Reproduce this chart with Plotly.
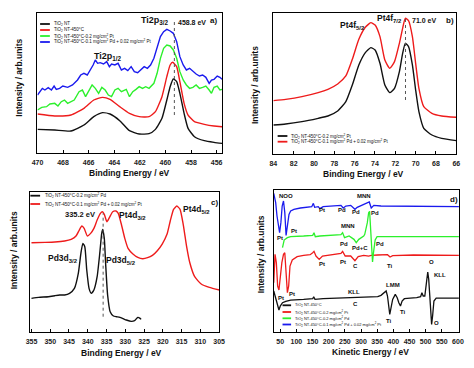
import plotly.graph_objects as go

W, H = 474, 368
FONT = "Liberation Sans, Arial, sans-serif"
BLACK, RED, GREEN, BLUE = "#111111", "#ee1b1b", "#2cf02c", "#1a1aee"

# ---------------- Panel a: Ti2p ----------------
a_bk_eV = [470.0, 468.65, 467.38, 466.37, 465.60, 464.92, 464.33, 463.57, 462.81, 462.05, 461.28, 460.78,
           460.27, 459.89, 459.63, 459.38, 459.12, 458.87, 458.54, 458.23, 457.73, 456.96, 456.20, 455.57]
a_bk_I = [70, 68, 65, 83, 108, 120, 116, 96, 66, 56, 57, 70, 103, 158, 198, 221, 213, 178, 118, 73, 48, 36, 31, 28]
a_rd_eV = [470.0, 468.65, 467.38, 466.37, 465.60, 464.92, 464.33, 463.57, 462.81, 462.05, 461.28, 460.78,
           460.27, 459.89, 459.63, 459.43, 459.12, 458.87, 458.54, 458.23, 457.73, 456.96, 456.20, 455.57]
a_rd_I = [116, 110, 113, 133, 158, 166, 160, 138, 118, 108, 108, 123, 168, 228, 263, 271, 258, 213, 148, 113, 93, 85, 80, 78]
a_gr_eV = [470.00, 469.67, 469.29, 469.03, 468.65, 468.40, 468.14, 467.89, 467.64, 467.38, 467.13, 466.75, 466.49,
           466.24, 465.98, 465.73, 465.48, 465.22, 464.97, 464.71, 464.46, 464.21, 463.95, 463.70, 463.44, 463.06,
           462.81, 462.55, 462.30, 462.05, 461.79, 461.54, 461.28, 460.90, 460.65, 460.39, 460.14, 459.89, 459.63,
           459.38, 459.12, 458.87, 458.61, 458.36, 458.11, 457.85, 457.60, 457.34, 457.09, 456.84, 456.58, 456.40,
           456.20, 455.95, 455.74, 455.57]
a_gr_I = [128, 136, 138, 146, 148, 140, 153, 158, 148, 153, 158, 183, 188, 168, 188, 203, 193, 178, 196, 188, 173,
          168, 188, 193, 183, 190, 168, 183, 190, 198, 193, 198, 193, 208, 238, 283, 313, 323, 320, 308, 283, 243,
          218, 203, 193, 196, 203, 193, 196, 200, 188, 178, 196, 200, 188, 190]
a_bl_eV = [470.00, 469.80, 469.62, 469.42, 469.16, 468.91, 468.70, 468.53, 468.27, 468.02, 467.64, 467.26, 466.87,
           466.62, 466.37, 466.11, 465.86, 465.65, 465.48, 465.30, 465.10, 464.84, 464.59, 464.38, 464.21, 463.95,
           463.70, 463.44, 463.19, 462.94, 462.68, 462.43, 462.17, 461.92, 461.66, 461.41, 461.16, 460.90, 460.65,
           460.39, 460.14, 459.89, 459.63, 459.38, 459.12, 458.87, 458.61, 458.36, 458.11, 457.85, 457.60, 457.34,
           457.09, 456.84, 456.58, 456.40, 456.20, 455.95, 455.74, 455.57]
a_bl_I = [173, 183, 193, 188, 195, 188, 200, 190, 193, 200, 196, 203, 218, 233, 238, 233, 248, 263, 278, 268,
          270, 266, 273, 258, 266, 263, 268, 248, 253, 246, 258, 243, 240, 248, 258, 253, 263, 283, 318, 348,
          363, 370, 365, 358, 333, 288, 263, 248, 253, 243, 236, 230, 233, 226, 208, 218, 220, 230, 226, 220]
a_mark_eV = [459.3, 459.3]
a_mark_I = [113, 395]
a_ticks = [470, 468, 466, 464, 462, 460, 458, 456]
a_legend = ["TiO<sub>2</sub> NT", "TiO<sub>2</sub> NT-450°C",
            "TiO<sub>2</sub> NT-450°C-0.2 mg/cm<sup>2</sup> Pt",
            "TiO<sub>2</sub> NT-450°C-0.1 mg/cm<sup>2</sup> Pd + 0.02 mg/cm<sup>2</sup> Pt"]

# ---------------- Panel b: Pt4f ----------------
b_eV = [84.00, 82.79, 81.19, 79.59, 78.63, 77.67, 76.87, 76.23, 75.59, 74.95, 74.41, 73.99, 73.51, 73.03,
        72.55, 72.08, 71.60, 71.28, 71.02, 70.70, 70.32, 70.00, 69.68, 69.20, 68.40, 67.44, 66.00]
b_bk_I = [87, 90, 97, 107, 114, 129, 157, 207, 267, 304, 319, 312, 272, 207, 184, 197, 247, 302, 332, 322,
          267, 192, 127, 77, 57, 47, 40]
b_rd_I = [160, 164, 172, 184, 194, 210, 234, 284, 344, 380, 394, 387, 352, 282, 257, 277, 332, 377, 407, 400,
          352, 272, 197, 142, 122, 114, 110]
b_mark_eV = [71.0, 71.0]
b_mark_I = [162, 412]
b_ticks = [84, 82, 80, 78, 76, 74, 72, 70, 68, 66]
b_legend = ["TiO<sub>2</sub> NT-450°C-0.2 mg/cm<sup>2</sup> Pt",
            "TiO<sub>2</sub> NT-450°C-0.1 mg/cm<sup>2</sup> Pd + 0.02 mg/cm<sup>2</sup> Pt"]

# ---------------- Panel c: Pd3d / Pt4d ----------------
c_bk_eV = [355.00, 353.09, 350.49, 348.76, 347.46, 346.16, 344.86, 343.56, 342.52, 341.83, 341.31, 340.79,
           340.27, 339.66, 339.06, 338.36, 337.50, 336.80, 336.28, 336.02, 335.59, 335.24, 334.71, 334.03,
           333.16, 332.30, 331.43, 330.56, 329.70, 328.40, 327.53, 326.66, 326.06, 325.80]
c_bk_I = [100, 103, 105, 108, 110, 110, 115, 130, 175, 235, 265, 255, 185, 130, 115, 125, 165, 235, 295, 307,
          280, 205, 110, 60, 47, 45, 43, 39, 35, 31, 33, 43, 40, 37]
c_rd_eV = [355.00, 351.36, 348.76, 346.16, 344.43, 343.13, 342.26, 341.57, 340.96, 340.10, 339.23, 338.36,
           337.50, 336.63, 336.11, 335.59, 334.90, 334.20, 333.34, 332.47, 331.87, 331.00, 330.13, 329.26,
           327.96, 326.66, 325.36, 324.06, 322.76, 321.46, 320.16, 318.86, 318.00, 317.13, 316.26, 315.40,
           314.53, 313.67, 312.80, 311.50, 309.77, 307.60, 304.90]
c_rd_I = [267, 268, 269, 272, 277, 287, 305, 317, 310, 287, 295, 310, 335, 355, 360, 352, 330, 343, 360, 362,
          355, 320, 280, 250, 233, 223, 219, 222, 229, 243, 263, 293, 333, 367, 377, 367, 320, 257, 207, 165,
          143, 133, 125]
c_mark_eV = [335.9, 335.9]
c_mark_I = [45, 355]
c_ticks = [355, 350, 345, 340, 335, 330, 325, 320, 315, 310, 305]
c_legend = ["TiO<sub>2</sub> NT-450°C-0.2 mg/cm<sup>2</sup> Pd",
            "TiO<sub>2</sub> NT-450°C-0.1 mg/cm<sup>2</sup> Pd + 0.02 mg/cm<sup>2</sup> Pt"]

# ---------------- Panel d: Auger ----------------
d_bk_eV = [29.9, 33.9, 37.9, 42.0, 46.0, 50.0, 57.0, 67.1, 82.2, 122.4, 150.5, 153.5, 157.5, 182.7, 222.9,
           273.1, 311.5, 331.6, 351.7, 361.8, 371.8, 377.8, 381.9, 385.9, 388.9, 391.9, 397.9, 406.0, 412.0,
           417.0, 422.1, 427.1, 434.1, 452.2, 472.3, 484.4, 488.4, 492.4, 497.4, 502.5, 506.5, 509.5, 512.5,
           515.5, 518.5, 521.5, 525.6, 532.6, 562.8, 603.0]
d_bk_I = [122, 107, 87, 72, 65, 77, 87, 91, 95, 97, 99, 105, 97, 99, 100, 101, 103, 104, 105, 109, 117, 122,
          107, 67, 52, 67, 97, 112, 102, 87, 77, 92, 99, 101, 102, 105, 117, 107, 107, 147, 179, 157, 107, 57,
          22, 47, 92, 101, 101, 101]
d_rd_eV = [29.9, 33.9, 37.9, 42.0, 46.0, 50.0, 55.0, 60.1, 64.1, 68.1, 72.1, 76.1, 80.2, 87.2, 102.3, 122.4,
           142.5, 150.5, 154.5, 160.6, 170.6, 180.7, 202.8, 222.9, 237.9, 243.0, 251.0, 268.1, 281.2, 291.2,
           308.3, 323.6, 331.6, 351.7, 381.9, 389.9, 397.9, 462.3, 512.5, 562.8, 603.0]
d_rd_I = [147, 232, 207, 137, 125, 167, 207, 232, 237, 177, 117, 137, 197, 215, 225, 229, 231, 237, 241, 227,
          217, 227, 230, 231, 235, 241, 227, 227, 213, 225, 229, 227, 229, 230, 231, 224, 228, 230, 230, 230, 229]
d_gr_eV = [57.0, 62.1, 72.1, 82.2, 122.4, 150.5, 154.5, 158.5, 172.6, 222.9, 237.9, 243.0, 249.0, 263.1, 278.1,
           285.2, 293.2, 308.3, 311.5, 319.5, 323.6, 326.6, 329.6, 332.6, 335.6, 338.6, 343.7, 349.7, 371.8,
           462.3, 562.8, 603.0]
d_gr_I = [252, 275, 282, 285, 287, 289, 297, 285, 287, 289, 291, 297, 282, 287, 277, 267, 277, 287, 292, 327,
          357, 361, 317, 247, 209, 237, 275, 285, 285, 285, 285, 285]
d_bl_eV = [29.9, 31.9, 35.9, 40.0, 44.0, 48.0, 52.0, 56.0, 60.1, 64.1, 68.1, 72.1, 77.1, 82.2, 92.2, 112.3,
           132.4, 147.5, 152.5, 156.5, 167.6, 172.6, 182.7, 202.8, 222.9, 237.9, 245.0, 253.0, 268.1, 281.2,
           288.2, 303.3, 311.5, 319.5, 325.6, 331.6, 339.6, 361.8, 412.0, 462.3, 512.5, 562.8, 603.0]
d_bl_I = [415, 405, 387, 347, 317, 297, 327, 377, 392, 357, 289, 317, 352, 362, 367, 371, 373, 375, 385, 373,
          375, 369, 375, 377, 377, 379, 371, 377, 379, 367, 373, 379, 382, 387, 389, 371, 379, 377, 377, 377,
          377, 377, 375]
d_ticks = [50, 100, 150, 200, 250, 300, 350, 400, 450, 500, 550, 600]
d_legend = ["TiO<sub>2</sub> NT-450°C",
            "TiO<sub>2</sub> NT-450°C-0.2 mg/cm<sup>2</sup> Pt",
            "TiO<sub>2</sub> NT-450°C-0.2 mg/cm<sup>2</sup> Pd",
            "TiO<sub>2</sub> NT-450°C-0.1 mg/cm<sup>2</sup> Pd + 0.02 mg/cm<sup>2</sup> Pt"]

# ---------------- figure ----------------
fig = go.Figure()


def add(ax, x, y, color, name, smooth=True, width=1.4):
    line = dict(color=color, width=width)
    if smooth:
        line.update(shape="spline", smoothing=0.5)
    fig.add_trace(go.Scatter(x=x, y=y, mode="lines", line=line, name=name, showlegend=False,
                             xaxis="x" + ax, yaxis="y" + ax, hoverinfo="x+y+name"))


def mark(ax, x, y):
    fig.add_trace(go.Scatter(x=x, y=y, mode="lines", line=dict(color="#555555", width=1, dash="dot"),
                             showlegend=False, xaxis="x" + ax, yaxis="y" + ax, hoverinfo="skip"))


add("", a_bk_eV, a_bk_I, BLACK, "TiO2 NT")
add("", a_rd_eV, a_rd_I, RED, "TiO2 NT-450°C")
add("", a_gr_eV, a_gr_I, GREEN, "Pt", smooth=False)
add("", a_bl_eV, a_bl_I, BLUE, "Pd+Pt", smooth=False)
mark("", a_mark_eV, a_mark_I)

add("2", b_eV, b_bk_I, BLACK, "Pt")
add("2", b_eV, b_rd_I, RED, "Pd+Pt")
mark("2", b_mark_eV, b_mark_I)

add("3", c_bk_eV, c_bk_I, BLACK, "Pd")
add("3", c_rd_eV, c_rd_I, RED, "Pd+Pt")
mark("3", c_mark_eV, c_mark_I)

add("4", d_bk_eV, d_bk_I, BLACK, "TiO2 NT-450°C", smooth=False, width=1.3)
add("4", d_rd_eV, d_rd_I, RED, "Pt", smooth=False, width=1.3)
add("4", d_gr_eV, d_gr_I, GREEN, "Pd", smooth=False, width=1.3)
add("4", d_bl_eV, d_bl_I, BLUE, "Pd+Pt", smooth=False, width=1.3)


def xdom(l, r):
    return [l / W, r / W]


def ydom(t, b):
    return [1 - b / H, 1 - t / H]


def xax(dom, rng, ticks, anchor):
    return dict(domain=dom, range=rng, tickvals=ticks, ticks="inside", ticklen=3, tickwidth=1,
                tickcolor="black", showline=True, linecolor="black", linewidth=1, mirror=True,
                showgrid=False, zeroline=False, anchor=anchor, ticklabelstandoff=3,
                tickfont=dict(family=FONT, size=7, color="#222222", weight="bold"))


def yax(dom, rng, anchor):
    return dict(domain=dom, range=rng, showticklabels=False, ticks="", showline=True, linecolor="black",
                linewidth=1, mirror=True, showgrid=False, zeroline=False, anchor=anchor)


fig.update_layout(
    width=W, height=H, margin=dict(l=0, r=0, t=0, b=0),
    paper_bgcolor="white", plot_bgcolor="white", showlegend=False,
    xaxis=xax(xdom(32.3, 221.7), [470, 455.57], a_ticks, "y"),
    yaxis=yax(ydom(13.3, 152.7), [0, 418], "x"),
    xaxis2=xax(xdom(274.3, 462.0), [84, 66], b_ticks, "y2"),
    yaxis2=yax(ydom(13.3, 154.0), [0, 422], "x2"),
    xaxis3=xax(xdom(24.6, 219.0), [355.4, 304.9], c_ticks, "y3"),
    yaxis3=yax(ydom(191.7, 331.7), [0, 420], "x3"),
    xaxis4=xax(xdom(274.7, 464.7), [29.9, 603], d_ticks, "y4"),
    yaxis4=yax(ydom(190.0, 331.7), [0, 425], "x4"),
)

ann = []
shapes = []


def text(t, x, y, size=6, bold=True, xanchor="center", angle=0, color="#111111"):
    ann.append(dict(text=t, x=x / W, y=1 - y / H, xref="paper", yref="paper", showarrow=False,
                    xanchor=xanchor, yanchor="middle", textangle=angle,
                    font=dict(family=FONT, size=size, color=color, weight="bold" if bold else "normal")))


def legend(labels, colors, x0, x1, ys, tx, size):
    for lab, col, y in zip(labels, colors, ys):
        shapes.append(dict(type="line", xref="paper", yref="paper", x0=x0 / W, x1=x1 / W,
                           y0=1 - y / H, y1=1 - y / H, line=dict(color=col, width=1.8)))
        text(lab, tx, y, size=size, bold=False, xanchor="left")


# axis titles
for cx, cy in [(127, 173), (367, 174), (118, 353), (374, 352)]:
    text("Binding Energy / eV" if cx < 370 else "Kinetic Energy / eV", cx, cy, size=8.5)
for cx, cy in [(13, 78), (255.5, 85), (8.5, 250), (262, 254)]:
    text("Intensity / arb.units", cx, cy, size=8.5, angle=-90)

# panel a labels
text("Ti2p<sub>3/2</sub>", 153, 21, size=9)
text("458.8 eV", 174, 22, size=7, xanchor="left")
text("Ti2p<sub>1/2</sub>", 105, 57, size=9)
text("a)", 213, 21, size=8)
legend(a_legend, [BLACK, RED, GREEN, BLUE], 35, 45, [24, 30, 36, 42], 47, 4.5)

# panel b labels
text("Pt4f<sub>5/2</sub>", 356, 25, size=8.5)
text("Pt4f<sub>7/2</sub>", 393, 19, size=8.5)
text("71.0 eV", 429, 21, size=7)
text("b)", 456, 21, size=8)
legend(b_legend, [BLACK, RED], 278.7, 288.7, [136, 141.7], 290.5, 4.5)

# panel c labels
text("335.2 eV", 76, 214, size=7.5)
text("Pt4d<sub>3/2</sub>", 130, 215, size=8.5)
text("Pt4d<sub>5/2</sub>", 195, 209, size=8.5)
text("Pd3d<sub>3/2</sub>", 58, 258, size=8.5)
text("Pd3d<sub>5/2</sub>", 118, 260, size=8.5)
text("c)", 214, 202, size=8)
legend(c_legend, [BLACK, RED], 25, 35, [195.7, 204], 37.5, 4.5)

# panel d labels
for t, x, y in [("NOO", 287, 196), ("MNN", 367, 196), ("Pt", 281, 238), ("Pt", 295, 231),
                ("Pt", 324, 210), ("Pd", 345, 210), ("Pd", 359, 212), ("Pd", 379, 213),
                ("MNN", 351, 226), ("Pd", 347, 244), ("Pd+C", 363, 248), ("Pd", 384, 244),
                ("Pt", 324, 264), ("Pt", 346, 262), ("C", 359, 266), ("Ti", 394, 266), ("O", 437, 262),
                ("Pt", 282, 298), ("Pt", 293, 294), ("KLL", 357, 292), ("C", 359, 304),
                ("LMM", 397, 285), ("Ti", 393, 321), ("Ti", 407, 312), ("KLL", 445, 275), ("O", 442, 323)]:
    text(t, x, y, size=6)
text("d)", 460, 199, size=8)
legend(d_legend, [BLACK, RED, GREEN, BLUE], 283.7, 292.5, [305.3, 312, 318.3, 324.5], 294.5, 4)

fig.update_layout(annotations=ann, shapes=shapes)
fig.write_html("out.html", config={"displayModeBar": False},
               post_script="document.body.style.margin='0px';document.body.style.overflow='hidden';")
